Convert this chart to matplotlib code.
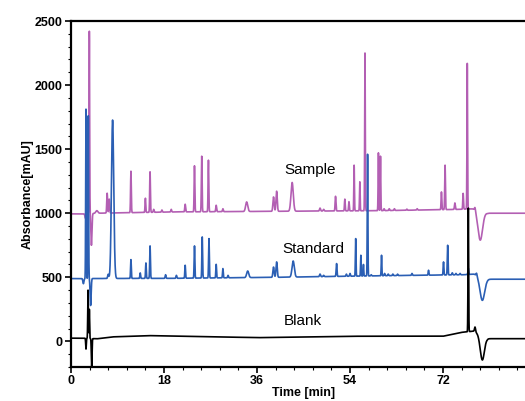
import numpy as np
import matplotlib
matplotlib.use("Agg")
import matplotlib.pyplot as plt
from matplotlib.ticker import MultipleLocator

plt.rcParams['font.family'] = ['Liberation Sans', 'DejaVu Sans']

# peak tables: (retention time [min], apex [mAU], sigma [min])
sample_peaks = [
    (2.8, 960, 0.10), (3.15, 1525, 0.06), (3.55, 2420, 0.06), (3.95, 750, 0.10),
    (5.0, 1020, 0.20), (7.0, 1156, 0.08), (7.4, 1110, 0.08), (11.6, 1328, 0.07),
    (14.4, 1117, 0.07), (15.3, 1323, 0.07), (16.0, 1030, 0.08), (17.6, 1025, 0.08),
    (19.4, 1030, 0.08), (22.1, 1070, 0.08), (23.9, 1370, 0.07), (25.3, 1445, 0.07),
    (26.6, 1414, 0.07), (28.1, 1062, 0.08), (29.4, 1035, 0.08), (34.0, 1088, 0.20),
    (39.2, 1127, 0.12), (39.8, 1172, 0.12), (42.8, 1240, 0.22), (48.2, 1040, 0.10),
    (48.9, 1030, 0.10), (51.2, 1132, 0.08), (53.0, 1110, 0.07), (53.8, 1090, 0.07),
    (54.8, 1375, 0.06), (55.9, 1245, 0.06), (56.9, 2250, 0.06), (59.5, 1471, 0.06),
    (59.9, 1445, 0.06), (60.6, 1035, 0.08), (61.6, 1035, 0.08), (62.6, 1035, 0.08),
    (65.0, 1032, 0.08), (67.0, 1035, 0.08), (71.7, 1166, 0.07), (72.4, 1375, 0.07),
    (74.3, 1080, 0.08), (75.9, 1155, 0.07), (76.7, 2169, 0.06), (78.2, 1062, 0.10),
    (79.2, 790, 0.45),
]
sample_base = [(0, 995), (3, 995), (5, 1000), (20, 1010), (40, 1015), (60, 1020),
               (75, 1030), (78, 1035), (80.5, 1000), (90, 1000)]

standard_peaks = [
    (2.4, 450, 0.10), (2.9, 1812, 0.06), (3.35, 1760, 0.06), (3.8, 280, 0.10),
    (7.2, 523, 0.10), (8.05, 1727, 0.22), (11.6, 638, 0.07), (13.4, 534, 0.07),
    (14.5, 612, 0.07), (15.3, 745, 0.07), (18.3, 520, 0.08), (20.4, 515, 0.08),
    (22.1, 594, 0.07), (23.9, 745, 0.07), (25.4, 815, 0.07), (26.7, 802, 0.07),
    (28.1, 601, 0.07), (29.4, 568, 0.07), (30.4, 515, 0.08), (34.2, 549, 0.20),
    (39.2, 580, 0.12), (39.8, 620, 0.12), (43.0, 627, 0.22), (48.2, 525, 0.10),
    (48.9, 515, 0.10), (51.4, 607, 0.08), (53.3, 525, 0.08), (54.0, 530, 0.08),
    (55.1, 802, 0.06), (56.1, 672, 0.06), (56.6, 600, 0.06), (57.4, 1460, 0.06),
    (58.1, 520, 0.08), (60.1, 672, 0.06), (60.7, 530, 0.08), (61.4, 525, 0.08),
    (62.3, 525, 0.08), (63.2, 525, 0.08), (66.0, 530, 0.08), (69.2, 555, 0.07),
    (72.1, 620, 0.07), (72.9, 750, 0.07), (73.8, 535, 0.08), (74.5, 530, 0.08),
    (75.3, 530, 0.08), (76.9, 570, 0.07), (78.5, 540, 0.10), (79.6, 320, 0.45),
]
standard_base = [(0, 490), (20, 492), (40, 500), (60, 512), (76, 520), (78, 525),
                 (80.5, 485), (90, 485)]

blank_peaks = [
    (2.9, -60, 0.06), (3.3, 400, 0.06), (3.55, 250, 0.05), (4.0, -195, 0.07),
    (76.9, 1040, 0.06), (78.2, 112, 0.10), (79.6, -145, 0.40),
]
blank_base = [(0, 25), (2.5, 25), (5, 20), (8, 35), (15, 45), (25, 38), (36, 29),
              (54, 40), (72, 40), (75.5, 70), (78, 80), (80.5, 21), (90, 21)]

labels = ["Sample", "Standard", "Blank"]
label_pos = [(46.2, 1336), (47.0, 719), (44.9, 159)]
colors = ["#b35fb3", "#2b5fb4", "black"]


def trace(t, base, peaks):
    bt, bv = zip(*base)
    y = np.interp(t, bt, bv)
    for rt, apex, sig in peaks:
        h = apex - np.interp(rt, bt, bv)
        y = y + h * np.exp(-0.5 * ((t - rt) / sig) ** 2)
    return y


t = np.arange(0, 90, 0.01)

fig = plt.figure(figsize=(5.25, 4.01), dpi=100)
ax = fig.add_axes([71 / 525, 1 - 367 / 401, 465 / 525, 346 / 401])

for base, peaks, c in zip([sample_base, standard_base, blank_base],
                          [sample_peaks, standard_peaks, blank_peaks], colors):
    ax.plot(t, trace(t, base, peaks), color=c, lw=1.2)

for lab, (x, y) in zip(labels, label_pos):
    ax.text(x, y, lab, ha='center', va='center', fontsize=11)

ax.set_xlim(0, 90)
ax.set_ylim(-200, 2500)
ax.set_xticks([0, 18, 36, 54, 72])
ax.xaxis.set_minor_locator(MultipleLocator(3.6))
ax.set_yticks([0, 500, 1000, 1500, 2000, 2500])
ax.yaxis.set_minor_locator(MultipleLocator(100))
ax.tick_params(which='major', direction='out', length=4, width=1.2, labelsize=9, pad=2)
ax.tick_params(which='minor', direction='out', length=2, width=0.8)
for lab in ax.get_xticklabels() + ax.get_yticklabels():
    lab.set_fontweight('bold')
for s in ['left', 'top', 'bottom']:
    ax.spines[s].set_linewidth(1.6)
ax.spines['right'].set_visible(False)

ax.set_xlabel("Time [min]", fontsize=9, fontweight='bold', labelpad=0)
ax.set_ylabel("Absorbance[mAU]", fontsize=9, fontweight='bold', labelpad=1)

fig.savefig("out.png", dpi=100)
